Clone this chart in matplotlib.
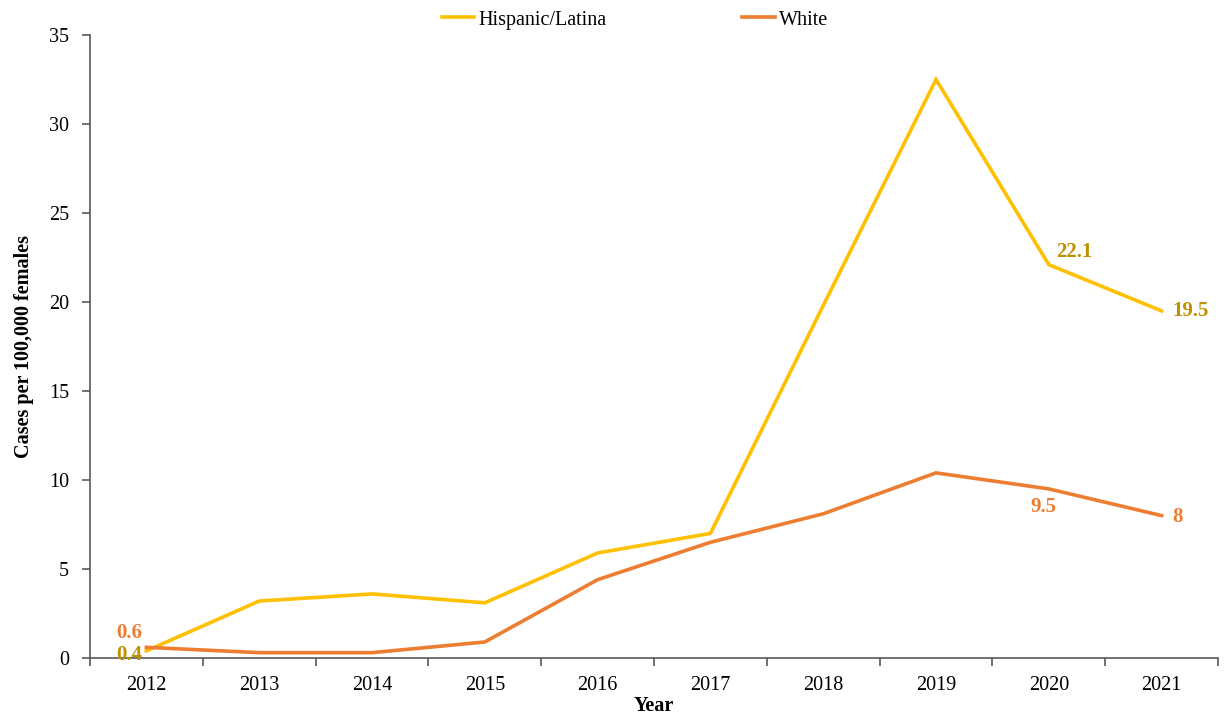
import matplotlib
matplotlib.use("Agg")
import matplotlib.pyplot as plt
import numpy as np

years = ["2012", "2013", "2014", "2015", "2016", "2017", "2018", "2019", "2020", "2021"]
hispanic = [0.4, 3.2, 3.6, 3.1, 5.9, 7.0, 19.8, 32.5, 22.1, 19.5]
white = [0.6, 0.3, 0.3, 0.9, 4.4, 6.5, 8.1, 10.4, 9.5, 8.0]

plt.rcParams['font.family'] = ['Liberation Serif', 'DejaVu Serif']

fig = plt.figure(figsize=(12.24, 7.17), dpi=100)
ax = fig.add_axes([90/1224, 1-658/717, (1218-90)/1224, (658-35)/717])

x = np.arange(len(years))
c_his = '#FFC000'
c_wht = '#ED7D31'
c_his_lbl = '#BF9000'
ax.plot(x, hispanic, color=c_his, lw=2.6, label='Hispanic/Latina', solid_joinstyle='miter')
ax.plot(x, white, color=c_wht, lw=2.6, label='White', solid_joinstyle='miter')

ax.set_xlim(-0.5, len(years)-0.5)
ax.set_ylim(0, 35)
ax.set_yticks(np.arange(0, 36, 5))
ax.set_xticks(x)
ax.set_xticklabels(years)
ax.set_xticks(np.arange(-0.5, len(years)), minor=True)
ax.tick_params(axis='x', which='major', length=0, labelsize=14.5, pad=13)
ax.tick_params(axis='x', which='minor', length=6, width=1.2, color='#595959', direction='out')
ax.tick_params(axis='y', length=6, width=1.2, color='#595959', labelsize=14.5, pad=9)
for s in ['top', 'right']:
    ax.spines[s].set_visible(False)
for s in ['left', 'bottom']:
    ax.spines[s].set_color('#595959')
    ax.spines[s].set_linewidth(1.2)

ax.set_xlabel('Year', fontsize=14.5, fontweight='bold', labelpad=1)
ax.set_ylabel('Cases per 100,000 females', fontsize=14.5, fontweight='bold', labelpad=11)

lbl = dict(fontsize=15, fontweight='bold')
ax.annotate(f"{hispanic[0]:g}", (x[0], hispanic[0]), xytext=(-3, -3), textcoords='offset points', ha='right', va='center', color=c_his_lbl, **lbl)
ax.annotate(f"{white[0]:g}", (x[0], white[0]), xytext=(-3, 10), textcoords='offset points', ha='right', va='center', color=c_wht, **lbl)
ax.annotate(f"{hispanic[8]:g}", (x[8], hispanic[8]), xytext=(5, 9), textcoords='offset points', ha='left', va='center', color=c_his_lbl, **lbl)
ax.annotate(f"{hispanic[9]:g}", (x[9], hispanic[9]), xytext=(8, 0), textcoords='offset points', ha='left', va='center', color=c_his_lbl, **lbl)
ax.annotate(f"{white[8]:g}", (x[8], white[8]), xytext=(-4, -13), textcoords='offset points', ha='center', va='center', color=c_wht, **lbl)
ax.annotate(f"{white[9]:g}", (x[9], white[9]), xytext=(8, -1), textcoords='offset points', ha='left', va='center', color=c_wht, **lbl)

leg = fig.legend(loc='center', ncol=2, frameon=False,
                 fontsize=14.5, handlelength=1.6, handletextpad=0.2, columnspacing=6.75)
leg.set_bbox_to_anchor((635/1224, 1-20/717))

fig.savefig('out.png', dpi=100)
